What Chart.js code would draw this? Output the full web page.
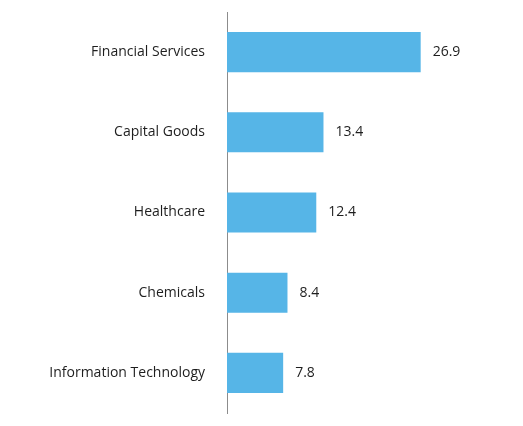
<!DOCTYPE html>
<html>
<head>
<meta charset="utf-8">
<script src="https://cdn.jsdelivr.net/npm/chart.js@4"></script>
<style>
  html, body { margin: 0; padding: 0; background: #fff; }
  #wrap { width: 523px; height: 426px; }
</style>
</head>
<body>
<div id="wrap"><canvas id="sectorChart" width="523" height="426"></canvas></div>
<script>
// Chart data
const sectors = ['Financial Services', 'Capital Goods', 'Healthcare', 'Chemicals', 'Information Technology'];
const weights = [26.9, 13.4, 12.4, 8.4, 7.8];

// Draws the value next to each bar
const valueLabels = {
  id: 'valueLabels',
  afterDatasetsDraw(chart) {
    const ctx = chart.ctx;
    const meta = chart.getDatasetMeta(0);
    ctx.save();
    ctx.font = '14px "Open Sans", sans-serif';
    ctx.fillStyle = '#1e1e1e';
    ctx.textAlign = 'left';
    ctx.textBaseline = 'middle';
    meta.data.forEach((bar, i) => {
      ctx.fillText(weights[i].toFixed(1), bar.x + 12, bar.y);
    });
    ctx.restore();
  }
};

const ctx = document.getElementById('sectorChart').getContext('2d');
const sectorChart = new Chart(ctx, {
  type: 'bar',
  data: {
    labels: sectors,
    datasets: [{
      data: weights,
      backgroundColor: '#56b5e7',
      borderWidth: 0,
      categoryPercentage: 1,
      barPercentage: 0.5
    }]
  },
  options: {
    indexAxis: 'y',
    responsive: false,
    animation: false,
    layout: { padding: { top: 12, bottom: 13, left: 0, right: 8 } },
    plugins: {
      legend: { display: false },
      tooltip: { enabled: false }
    },
    scales: {
      x: {
        display: false,
        min: 0,
        max: 40
      },
      y: {
        afterFit(scale) {
          scale.width = 227;
          scale.paddingTop = 0;
          scale.paddingBottom = 0;
        },
        grid: { display: false, drawTicks: false },
        border: { display: true, color: '#8c8c8c', width: 1 },
        ticks: {
          color: '#1e1e1e',
          font: { family: '"Open Sans", sans-serif', size: 14 },
          padding: 22
        }
      }
    }
  },
  plugins: [valueLabels]
});
</script>
</body>
</html>
